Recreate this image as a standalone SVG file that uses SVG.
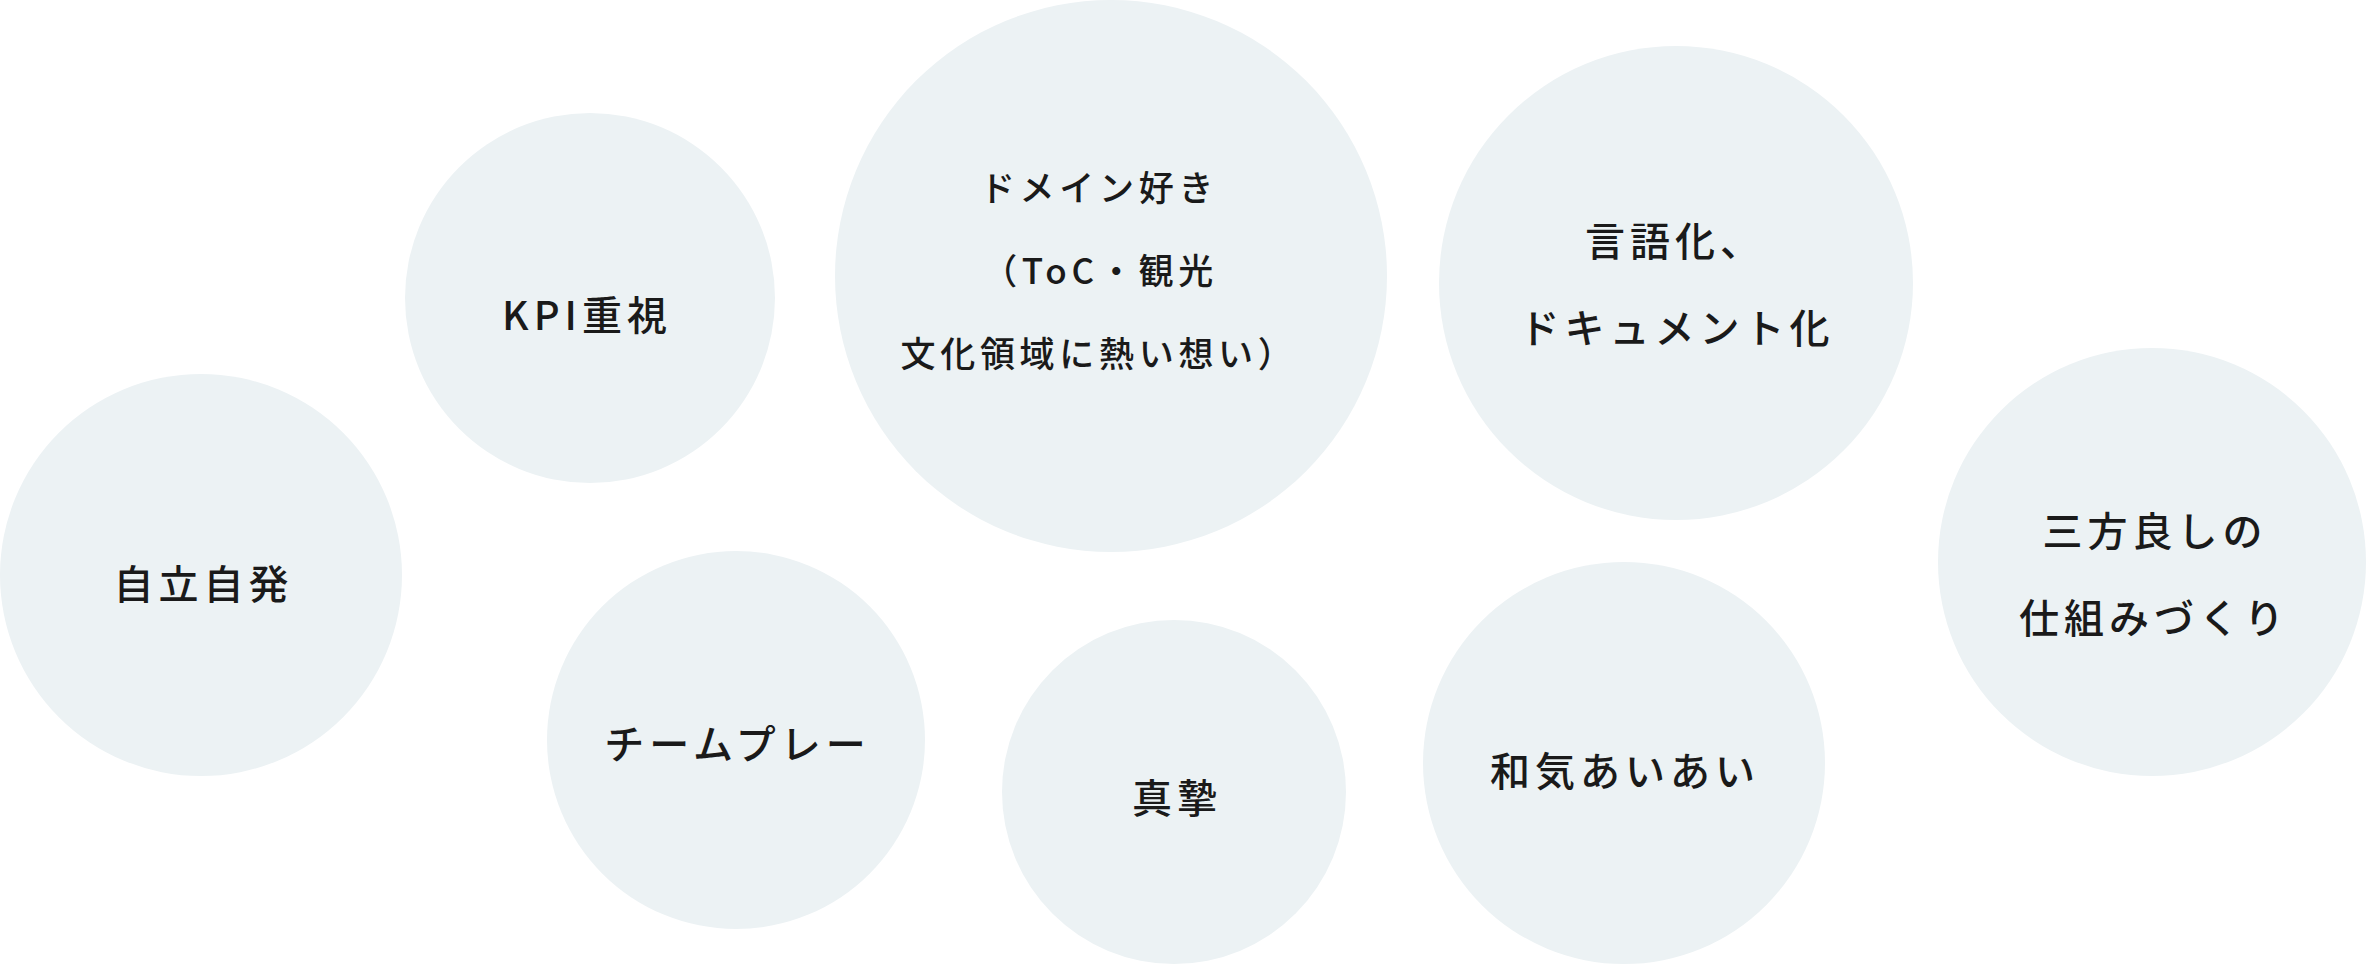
<svg xmlns="http://www.w3.org/2000/svg" width="2367" height="965" viewBox="0 0 2367 965">
  <style>
    .bubble { fill: #ECF2F4; }
    .label { font-family: "Noto Sans CJK JP", "Noto Sans", sans-serif; font-size: 40px; font-weight: 500; letter-spacing: 5px; fill: #1a1a1a; text-anchor: middle; }
    .small { font-size: 35px; letter-spacing: 4.7px; }
  </style>
  <rect width="2367" height="965" fill="#ffffff"/>
  <g id="connectors"></g>
  <g id="node-jiritsu">
    <circle class="bubble" cx="201" cy="575" r="201"/>
    <text class="label" x="203.5" y="599">自立自発</text>
  </g>
  <g id="node-kpi">
    <circle class="bubble" cx="590" cy="298" r="185"/>
    <text class="label" x="587" y="330">KPI重視</text>
  </g>
  <g id="node-domain">
    <circle class="bubble" cx="1111" cy="276" r="276"/>
    <text class="label small" x="1099" y="201">ドメイン好き</text>
    <text class="label small" x="1100" y="284">（ToC・観光</text>
    <text class="label small" x="1099" y="367">文化領域に熱い想い）</text>
  </g>
  <g id="node-gengoka">
    <circle class="bubble" cx="1676" cy="283" r="237"/>
    <text class="label" x="1675" y="256">言語化、</text>
    <text class="label" x="1677" y="343">ドキュメント化</text>
  </g>
  <g id="node-sanpo">
    <circle class="bubble" cx="2152" cy="562" r="214"/>
    <text class="label" x="2155" y="546">三方良しの</text>
    <text class="label" x="2154" y="633">仕組みづくり</text>
  </g>
  <g id="node-team">
    <circle class="bubble" cx="736" cy="740" r="189"/>
    <text class="label" x="737.5" y="759">チームプレー</text>
  </g>
  <g id="node-shinshi">
    <circle class="bubble" cx="1174" cy="792" r="172"/>
    <text class="label" x="1177" y="813">真摯</text>
  </g>
  <g id="node-wakiaiai">
    <circle class="bubble" cx="1624" cy="763" r="201"/>
    <text class="label" x="1625" y="786">和気あいあい</text>
  </g>
</svg>
